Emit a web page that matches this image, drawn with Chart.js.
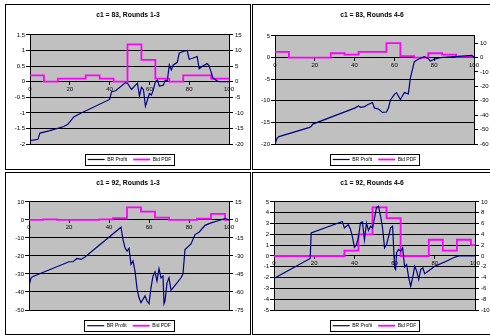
<!DOCTYPE html>
<html>
<head>
<meta charset="utf-8">
<script src="https://cdn.jsdelivr.net/npm/chart.js@4/dist/chart.umd.min.js"></script>
<style>
  html, body { margin: 0; padding: 0; background: #fff; }
  body { width: 490px; height: 335px; position: relative; overflow: hidden; }
  .panel { position: absolute; border: 1px solid #000; box-sizing: border-box; background: #fff; }
  .panel canvas { position: absolute; left: 0; top: 0; }
</style>
</head>
<body>
<div class="panel" style="left:5px;top:4px;width:246px;height:166px"><canvas id="p1" width="244" height="164"></canvas></div>
<div class="panel" style="left:252px;top:4px;width:240px;height:166px"><canvas id="p2" width="238" height="164"></canvas></div>
<div class="panel" style="left:5px;top:172px;width:246px;height:163px"><canvas id="p3" width="244" height="161"></canvas></div>
<div class="panel" style="left:252px;top:172px;width:240px;height:163px"><canvas id="p4" width="238" height="161"></canvas></div>
<script>
// Shared x axis and bid-bin starts (bins of width 7, last point closes the final step at 100)
const X_TICKS = [0, 20, 40, 60, 80, 100];
const BID_X = [0, 7, 14, 21, 28, 35, 42, 49, 56, 63, 70, 77, 84, 91, 98, 100];

// c1 = 83, Rounds 1-3
const PROFIT_83_R13_X = [0, 4, 5, 10, 17, 19, 22, 25, 40, 41, 43, 48, 49, 51, 53, 54, 55, 56, 57, 58, 59, 60, 61, 62, 63, 64, 65, 67, 68, 69, 70, 71, 72, 74, 75, 77, 79, 80, 82, 84, 85, 87, 89, 90, 92, 94, 95, 100];
const PROFIT_83_R13_Y = [-1.89, -1.85, -1.65, -1.57, -1.44, -1.37, -1.13, -1.03, -0.57, -0.32, -0.29, -0.03, -0.05, -0.25, -0.11, -0.05, -0.46, -0.18, -0.25, -0.79, -0.59, -0.38, -0.43, -0.25, 0, 0.05, -0.14, -0.11, 0.05, 0.03, 0.54, 0.38, 0.54, 0.62, 0.92, 0.97, 1.0, 0.72, 0.76, 0.81, 0.42, 0.51, 0.58, 0.51, 0.11, 0.03, 0, 0];
const BID_83_R13 = [2, 0, 1, 1, 2, 1, 0, 12, 7, 1, 0, 2, 2, 1, 1, 1];
const LEFT_TICKS_83_R13 = [-2, -1.5, -1, -0.5, 0, 0.5, 1, 1.5];
const RIGHT_TICKS_83_R13 = [-20, -15, -10, -5, 0, 5, 10, 15];

// c1 = 83, Rounds 4-6
const PROFIT_83_R46_X = [0, 1, 2, 17, 18, 19, 40, 42, 43, 45, 47, 49, 50, 52, 54, 56, 57, 58, 60, 61, 62, 63, 64, 65, 67, 68, 69, 70, 72, 74, 75, 77, 78, 80, 83, 90, 99, 100];
const PROFIT_83_R46_Y = [-20, -18.7, -18.3, -16.2, -16.0, -15.4, -11.7, -11.2, -11.5, -11.35, -10.8, -10.4, -11.7, -11.9, -12.7, -12.6, -11.7, -9.8, -8.5, -8.1, -8.9, -9.7, -8.9, -8.1, -8.4, -4.8, -2.9, -0.95, -0.4, 0, 0.2, -0.2, -0.8, -0.4, 0, 0.2, 0.5, 0];
const BID_83_R46 = [4, 0, 0, 0, 3, 2, 4, 4, 10, 1, 0, 3, 2, 0.5, 0.5, 0.5];
const LEFT_TICKS_83_R46 = [-20, -15, -10, -5, 0, 5];
const RIGHT_TICKS_83_R46 = [-60, -50, -40, -30, -20, -10, 0, 10];

// c1 = 92, Rounds 1-3
const PROFIT_92_R13_X = [0, 1, 2, 20, 22, 24, 26, 28, 46, 47, 48, 49, 50, 51, 52, 53, 54, 55, 56, 57, 58, 59, 60, 61, 62, 63, 64, 65, 66, 67, 67.5, 68, 69, 70, 71, 74, 76, 77, 78, 81, 83, 85, 88, 91, 95, 98, 100];
const PROFIT_92_R13_Y = [-36.7, -32.1, -31.4, -23.2, -23.2, -21.4, -21.9, -20.6, -4.0, -10.9, -15.5, -17.3, -15.8, -24.7, -22.8, -28.4, -38, -43.2, -45.9, -44, -42.2, -45, -46.5, -37.6, -31.2, -28.8, -33.9, -27.1, -32.1, -31.1, -46.5, -45, -34.9, -32.1, -39.1, -34.9, -32.1, -29.9, -16.4, -13.3, -8.1, -6.8, -3, -1.6, -0.3, 0.8, 0];
const BID_92_R13 = [0, 0.5, 0, 0, 0, 0.5, 1.5, 10.5, 7, 2, 0, 0, 1, 5, 0, 0];
const LEFT_TICKS_92_R13 = [-50, -40, -30, -20, -10, 0, 10];
const RIGHT_TICKS_92_R13 = [-75, -60, -45, -30, -15, 0, 15];

// c1 = 92, Rounds 4-6
const PROFIT_92_R46_X = [0, 18, 18.5, 34, 35, 36, 37, 38, 39, 40, 41, 42, 43, 44, 45, 46, 47, 48, 49, 50, 51, 52, 53, 54, 55, 56, 57, 58, 59, 60, 60.5, 61, 62, 63, 64, 65, 66, 67, 68, 69, 70, 71, 72, 73, 74, 75, 80, 85, 90, 92, 100];
const PROFIT_92_R46_Y = [-2.08, -0.23, 2.14, 3.2, 2.6, 2.75, 2.9, 2.5, 1.8, 0.8, 1.06, 1.7, 3.06, 3.15, 1.5, 3.06, 2.35, 2.75, 2.6, 3.5, 4.5, 4.6, 3.7, 2.6, 0.75, 1.06, 1.8, 2.6, 2.75, -1.1, -1.25, 0.3, 0.6, 0.45, 0.75, -1.03, -0.8, -2.0, -2.8, -2.0, -0.95, -1.4, -2.17, -1.25, -1.1, -1.65, -0.95, -0.55, -0.1, 0, 0];
const BID_92_R46 = [0, 0, 0, 0, 0, 1, 4, 9, 7, 0, 0, 3, 1, 3, 2, 2];
const LEFT_TICKS_92_R46 = [-5, -4, -3, -2, -1, 0, 1, 2, 3, 4, 5];
const RIGHT_TICKS_92_R46 = [-10, -8, -6, -4, -2, 0, 2, 4, 6, 8, 10];

const FONT = "'Liberation Sans', Arial, Helvetica, sans-serif";
const NAVY = '#000080';
const MAGENTA = '#FF00FF';
const PLOT_GREY = '#C0C0C0';

const points = (xs, ys) => xs.map((x, i) => ({ x, y: ys[i] }));
const setTicks = (values) => (scale) => { scale.ticks = values.map(v => ({ value: v })); };

// grey plot-area fill behind the series
const plotFill = {
  id: 'plotFill',
  beforeDraw(chart) {
    const { ctx, chartArea: a } = chart;
    ctx.save();
    ctx.fillStyle = PLOT_GREY;
    ctx.fillRect(a.left, a.top, a.right - a.left, a.bottom - a.top);
    ctx.restore();
  }
};

// thin frame around the legend row
const legendFrame = {
  id: 'legendFrame',
  afterDraw(chart) {
    const lg = chart.legend;
    if (!lg || !lg.lineWidths) return;
    const pad = lg.options.labels.padding;
    const fs = lg.options.labels.font.size;
    const w = lg.lineWidths[0];
    const x0 = (lg.left + pad + lg.right - w) / 2;
    const x1 = x0 + w - pad;
    const cy = lg.top + pad + lg._computeTitleHeight() + fs / 2;
    const { ctx } = chart;
    ctx.save();
    ctx.strokeStyle = '#000';
    ctx.lineWidth = 1;
    const l = Math.round(x0 - 3) + 0.5, r = Math.round(x1 + 3) + 0.5;
    const t = Math.round(cy - 5.5) + 0.5, b = Math.round(cy + 5.5) + 0.5;
    ctx.strokeRect(l, t, r - l, b - t);
    ctx.restore();
  }
};

function makePanel(id, p) {
  const tickFont = { family: FONT, size: 6 };
  return new Chart(document.getElementById(id), {
    type: 'line',
    data: {
      datasets: [
        {
          label: 'BR Profit',
          data: points(p.profitX, p.profitY),
          yAxisID: 'y',
          borderColor: NAVY,
          backgroundColor: NAVY,
          borderWidth: 1.2,
          pointRadius: 0,
          tension: 0
        },
        {
          label: 'Bid PDF',
          data: points(BID_X, p.bid),
          yAxisID: 'y2',
          borderColor: MAGENTA,
          backgroundColor: MAGENTA,
          borderWidth: 1.8,
          pointRadius: 0,
          stepped: true
        }
      ]
    },
    options: {
      responsive: false,
      animation: false,
      devicePixelRatio: 1,
      events: [],
      layout: { padding: 0 },
      scales: {
        x: {
          type: 'linear',
          min: 0,
          max: 100,
          position: { y: 0 },
          afterBuildTicks: setTicks(X_TICKS),
          afterFit: (s) => { s.height = 0; },
          grid: { drawOnChartArea: false, drawTicks: true, tickLength: 3, color: '#000', tickColor: '#000' },
          border: { display: true, color: '#000', width: 1 },
          ticks: { font: tickFont, color: '#000', padding: 1, maxRotation: 0, autoSkip: false, callback: (v) => String(v) }
        },
        y: {
          type: 'linear',
          position: 'left',
          min: p.leftTicks[0],
          max: p.leftTicks[p.leftTicks.length - 1],
          afterBuildTicks: setTicks(p.leftTicks),
          afterFit: (s) => { s.width = p.leftW; },
          grid: { color: '#000', lineWidth: 1, drawTicks: true, tickLength: 4, tickColor: '#000' },
          border: { display: true, color: '#000', width: 1 },
          ticks: { font: tickFont, color: '#000', padding: 1, autoSkip: false, callback: (v) => String(v) }
        },
        y2: {
          type: 'linear',
          position: 'right',
          min: p.rightMin,
          max: p.rightMax,
          afterBuildTicks: setTicks(p.rightTicks),
          afterFit: (s) => { s.width = p.rightW; },
          grid: { drawOnChartArea: false, drawTicks: true, tickLength: 4, color: '#000', tickColor: '#000' },
          border: { display: true, color: '#000', width: 1 },
          ticks: { font: tickFont, color: '#000', padding: 2, autoSkip: false, callback: (v) => String(v) }
        }
      },
      plugins: {
        tooltip: { enabled: false },
        title: {
          display: true,
          text: p.title,
          color: '#000',
          font: { family: FONT, size: 6.8, weight: 'bold', lineHeight: 1.2 },
          padding: { top: 5.9, bottom: p.titleBottom }
        },
        legend: {
          display: true,
          position: 'bottom',
          fullSize: false,
          maxHeight: p.legendH,
          title: { display: true, text: '', font: { family: FONT, size: 5, lineHeight: 1 }, padding: { top: p.legendGap - 5, bottom: 0 } },
          labels: {
            usePointStyle: true,
            pointStyle: 'line',
            pointStyleWidth: 17,
            color: '#000',
            padding: 6,
            font: { family: FONT, size: 5 }
          }
        }
      }
    },
    plugins: [plotFill, legendFrame]
  });
}

makePanel('p1', {
  title: 'c1 = 83, Rounds 1-3',
  profitX: PROFIT_83_R13_X, profitY: PROFIT_83_R13_Y, bid: BID_83_R13,
  leftTicks: LEFT_TICKS_83_R13, rightTicks: RIGHT_TICKS_83_R13, rightMin: -20, rightMax: 15,
  leftW: 24, rightW: 21, titleBottom: 15.9, legendH: 25, legendGap: 7
});
makePanel('p2', {
  title: 'c1 = 83, Rounds 4-6',
  profitX: PROFIT_83_R46_X, profitY: PROFIT_83_R46_Y, bid: BID_83_R46,
  leftTicks: LEFT_TICKS_83_R46, rightTicks: RIGHT_TICKS_83_R46, rightMin: -60, rightMax: 15,
  leftW: 22, rightW: 17, titleBottom: 16.9, legendH: 25, legendGap: 7
});
makePanel('p3', {
  title: 'c1 = 92, Rounds 1-3',
  profitX: PROFIT_92_R13_X, profitY: PROFIT_92_R13_Y, bid: BID_92_R13,
  leftTicks: LEFT_TICKS_92_R13, rightTicks: RIGHT_TICKS_92_R13, rightMin: -75, rightMax: 15,
  leftW: 23, rightW: 21, titleBottom: 14.9, legendH: 24, legendGap: 7.2
});
makePanel('p4', {
  title: 'c1 = 92, Rounds 4-6',
  profitX: PROFIT_92_R46_X, profitY: PROFIT_92_R46_Y, bid: BID_92_R46,
  leftTicks: LEFT_TICKS_92_R46, rightTicks: RIGHT_TICKS_92_R46, rightMin: -10, rightMax: 10,
  leftW: 21, rightW: 16, titleBottom: 14.9, legendH: 24, legendGap: 7.2
});
</script>
</body>
</html>
